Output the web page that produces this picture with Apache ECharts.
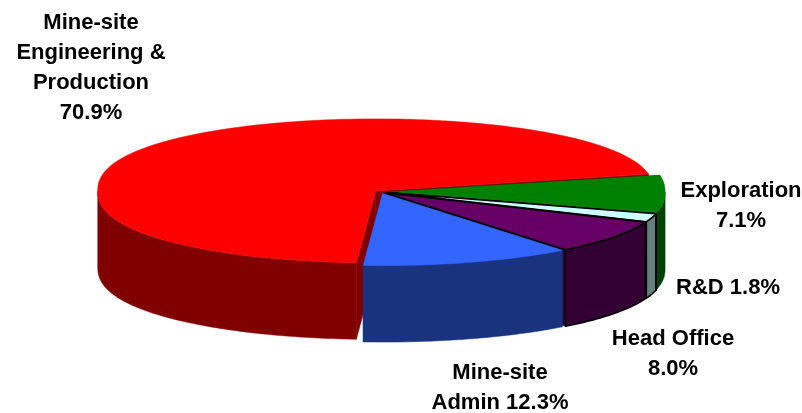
<!DOCTYPE html>
<html><head><meta charset="utf-8">
<style>html,body{margin:0;padding:0;background:#fff}#c{width:802px;height:413px}</style>
<script src="https://cdn.jsdelivr.net/npm/echarts@6/dist/echarts.min.js"></script>
</head><body><div id="c"></div>
<script>
// data, clockwise from the front edge of the large slice
var categories = ['Mine-site\nEngineering &\nProduction', 'Exploration', 'R&D', 'Head Office', 'Mine-site\nAdmin'];
var shares = [70.9, 7.1, 1.8, 8.0, 12.3];
var labelSeparators = ['\n', '\n', ' ', '\n', ' '];
// styles
var topColors = ['#FF0000', '#008000', '#CCFFFF', '#660066', '#3366FF'];
var wallColors = ['#800000', '#004000', '#668080', '#330033', '#19337F'];
var edgeColors = [null, null, '#000', '#000', null];
var labelX = [91, 741, 728, 673, 500];
var labelY = [68, 205.5, 288, 354, 387.5];
// layout of the tilted disc
var disc = {cx: 380.6, cy: 192, rx: 278, ry: 72, depth: 76.5, explode: 6.5, start: 94, bulge: 0.88};

function rim(c, t, dy) {
  var a = t * Math.PI / 180, s = Math.sin(a);
  var sy = (s < 0 ? -1 : 1) * Math.pow(Math.abs(s), disc.bulge);
  return [c[0] + disc.rx * Math.cos(a), c[1] + disc.ry * sy + (dy || 0)];
}
function arc(c, from, to, dy) {
  var pts = [], n = Math.max(2, Math.ceil(to - from));
  for (var i = 0; i <= n; i++) pts.push(rim(c, from + (to - from) * i / n, dy));
  return pts;
}
var total = shares.reduce(function (a, b) { return a + b; }, 0);

function renderSlice(params, api) {
  var i = params.dataIndex, before = 0;
  for (var j = 0; j < i; j++) before += shares[j];
  var from = disc.start + before / total * 360;
  var to = from + api.value(0) / total * 360;
  var mid = (from + to) / 2 * Math.PI / 180;
  var c = [disc.cx + disc.explode * Math.cos(mid),
           disc.cy + disc.explode * disc.ry / disc.rx * Math.sin(mid)];
  var cb = [c[0], c[1] + disc.depth];
  var edge = edgeColors[i];
  var fillStyle = function (col, withEdge) {
    return {fill: col, stroke: withEdge && edge ? edge : col, lineWidth: withEdge && edge ? 1.6 : 0.5, lineJoin: 'round'};
  };
  var kids = [];
  function poly(pts, col, withEdge) {
    kids.push({type: 'polygon', shape: {points: pts}, style: fillStyle(col, withEdge)});
  }
  var wall = wallColors[i];
  // radial faces
  [from, to].forEach(function (t) {
    var o = rim(c, t), ob = rim(c, t, disc.depth);
    poly([c, o, ob, cb], wall, i === 2);
  });
  // outer faces: only the front half of the rim is seen
  [[0, 180], [360, 540]].forEach(function (w) {
    var a = Math.max(from, w[0]), b = Math.min(to, w[1]);
    if (a < b) {
      var upper = arc(c, a, b), lower = arc(c, a, b, disc.depth).reverse();
      poly(upper.concat(lower), wall, true);
    }
  });
  // top
  poly([c].concat(arc(c, from, to)), topColors[i], true);
  // label
  kids.push({type: 'text', z2: 100, style: {
    text: categories[i] + labelSeparators[i] + api.value(0).toFixed(1) + '%',
    x: labelX[i], y: labelY[i], align: 'center', verticalAlign: 'middle',
    font: 'bold 22px "Liberation Sans", Arial, sans-serif', lineHeight: 30, fill: '#000'
  }});
  return {type: 'group', children: kids};
}

var chart = echarts.init(document.getElementById('c'), null, {renderer: 'canvas'});
chart.setOption({
  animation: false,
  backgroundColor: '#fff',
  series: [{
    type: 'custom',
    coordinateSystem: 'none',
    renderItem: renderSlice,
    data: shares.map(function (v, i) { return {name: categories[i], value: [v]}; })
  }]
});
</script></body></html>
